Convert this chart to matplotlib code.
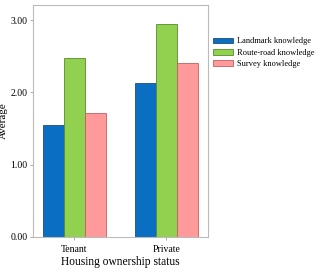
import numpy as np
import matplotlib
matplotlib.use('Agg')
import matplotlib.pyplot as plt

groups = ['Tenant', 'Private']
series = ['Landmark knowledge', 'Route-road knowledge', 'Survey knowledge']
landmark = [1.55, 2.13]
route_road = [2.48, 2.95]
survey = [1.72, 2.41]
colors = ['#0a6fc2', '#92d050', '#ff9a9a']
edges = ['#1f4e79', '#5a8a2a', '#c06060']

plt.rcParams['font.family'] = ['Liberation Serif', 'DejaVu Serif']

fig = plt.figure(figsize=(3.19, 2.69), dpi=100)
ax = fig.add_axes([33 / 319, 32 / 269, 175 / 319, 232 / 269])

x = np.arange(len(groups))
w = 0.228
for i, (vals, name) in enumerate(zip([landmark, route_road, survey], series)):
    ax.bar(x + (i - 1) * w, vals, width=w, color=colors[i], edgecolor=edges[i],
           linewidth=0.6, label=name)

ax.set_xlim(-0.45, 1.455)
ax.set_ylim(0, 3.21)
ax.set_yticks([0, 1, 2, 3])
ax.set_yticklabels(['0.00', '1.00', '2.00', '3.00'], fontsize=7)
ax.set_xticks(x)
ax.set_xticklabels(groups, fontsize=7)
ax.tick_params(axis='x', length=2, width=0.5, color='#888888', pad=4)
ax.tick_params(axis='y', length=2, width=0.5, color='#888888', pad=2)
for s in ax.spines.values():
    s.set_color('#bbbbbb')
    s.set_linewidth(0.8)
ax.set_ylabel('Average', fontsize=8, labelpad=2)
ax.set_xlabel('Housing ownership status', fontsize=8.3, labelpad=1)

ax.legend(loc='upper left', bbox_to_anchor=(1.01, 0.875), frameon=False,
          fontsize=6.0, handlelength=2.4, handleheight=0.65, handletextpad=0.45,
          labelspacing=0.4, borderaxespad=0)

fig.savefig('out.png', dpi=100)
